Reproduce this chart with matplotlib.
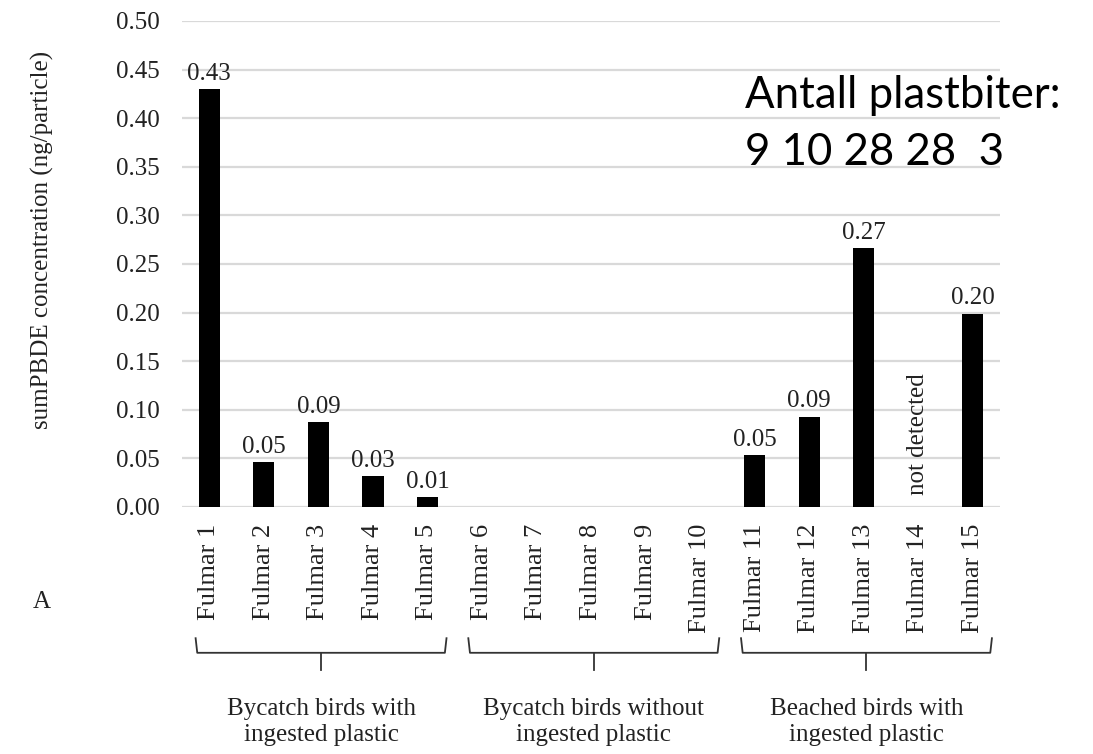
import numpy as np
import matplotlib
matplotlib.use('Agg')
import matplotlib.pyplot as plt
import matplotlib.transforms as mtransforms

birds = ['Fulmar %d' % i for i in range(1, 16)]
# sumPBDE per particle; nan = no bar drawn
conc = [0.430, 0.046, 0.087, 0.032, 0.010,
        np.nan, np.nan, np.nan, np.nan, np.nan,
        0.053, 0.093, 0.266, np.nan, 0.199]
not_detected = ['Fulmar 14']
groups = [('Bycatch birds with\ningested plastic', 0, 4),
          ('Bycatch birds without\ningested plastic', 5, 9),
          ('Beached birds with\ningested plastic', 10, 14)]
count_lines = ['Antall plastbiter:', '9 10 28 28  3']

serif = 'Liberation Serif'
fs = 18
txt = '#222222'

fig = plt.figure(figsize=(10.93, 7.54), dpi=100)
ax = fig.add_axes([0.1665, 0.3276, 0.7485, 0.6446])

x = np.arange(len(birds))
heights = np.nan_to_num(conc)
ax.bar(x, heights, width=0.39, color='black', zorder=3)

for xi, v in zip(x, conc):
    if not np.isnan(v):
        ax.annotate('%.2f' % v, (xi, v), xytext=(0, 3), textcoords='offset points',
                    ha='center', va='bottom', family=serif, fontsize=fs, color=txt)
for name in not_detected:
    i = birds.index(name)
    ax.text(i, 0.012, 'not detected', rotation=90, ha='center', va='bottom',
            family=serif, fontsize=fs, color=txt)

ax.set_xlim(-0.5, len(birds) - 0.5)
ax.set_ylim(0, 0.5)
yt = np.arange(0, 0.501, 0.05)
ax.set_yticks(yt)
ax.set_yticklabels(['%.2f' % t for t in yt], family=serif, fontsize=fs, color=txt)
ax.set_xticks(x)
ax.set_xticklabels(birds, rotation=90, family=serif, fontsize=19, color=txt)
ax.tick_params(axis='y', length=0, pad=16)
ax.tick_params(axis='x', length=0, pad=12)
ax.grid(axis='y', color='#d9d9d9', linewidth=1.6, zorder=0)
for s in ax.spines.values():
    s.set_visible(False)

ax.set_ylabel('sumPBDE concentration (ng/particle)', family=serif, fontsize=fs, color=txt)
ax.yaxis.set_label_coords(-0.157, 0.55)

# curly brackets under each group of birds
trans = mtransforms.blended_transform_factory(ax.transData, ax.transAxes)
for label, first, last in groups:
    x0, x1 = first - 0.25, last + 0.35
    xm = (x0 + x1) / 2
    ax.plot([x0, x0 + 0.03, x1 - 0.03, x1], [-0.270, -0.300, -0.300, -0.270], color='#333333',
            lw=1.3, transform=trans, clip_on=False)
    ax.plot([xm, xm], [-0.300, -0.335], color='#333333', lw=1.3,
            transform=trans, clip_on=False)
    ax.text(xm, -0.443, label, transform=trans, ha='center', va='center',
            family=serif, fontsize=fs, color=txt, linespacing=1.25)

fig.text(0.038, 1 - 602 / 754, 'A', ha='center', va='center', family=serif, fontsize=fs, color=txt)

fig.text(745 / 1093, 1 - 108 / 754, count_lines[0], ha='left', va='baseline',
         family='Lato', fontsize=31.5, color='black')
fig.text(745 / 1093, 1 - 165 / 754, count_lines[1], ha='left', va='baseline',
         family='Lato', fontsize=31.5, color='black')

fig.savefig('out.png', dpi=100)
